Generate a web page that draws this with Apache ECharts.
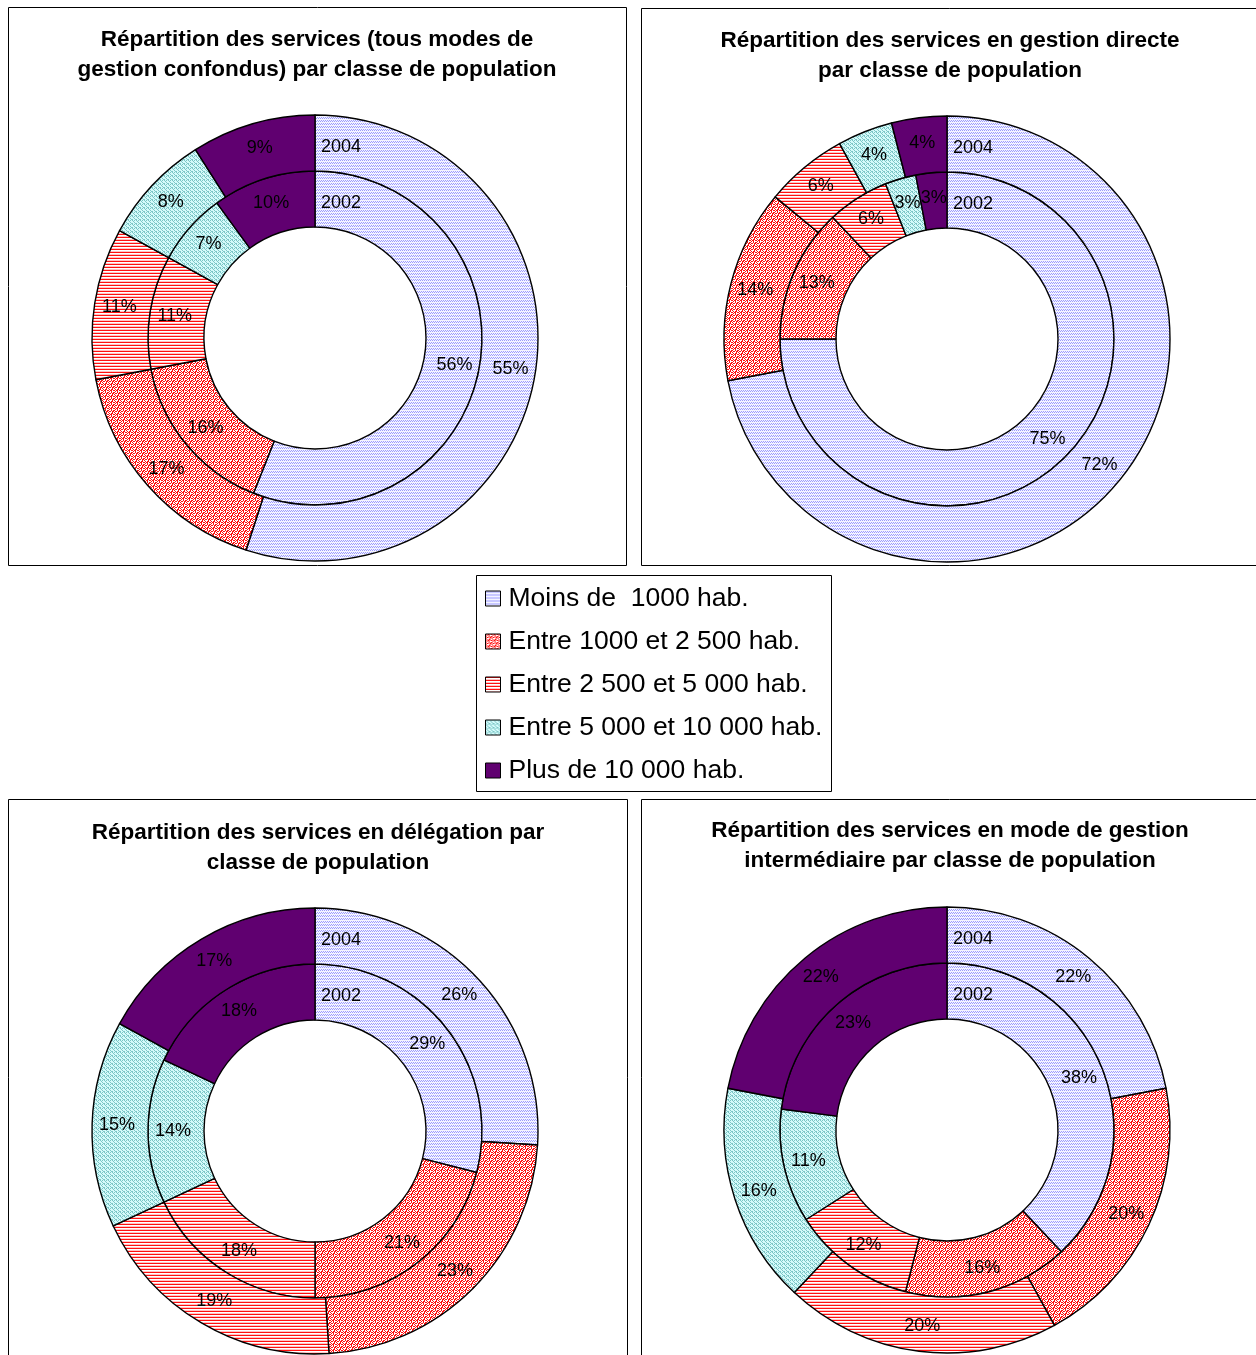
<!DOCTYPE html>
<html>
<head>
<meta charset="utf-8">
<script src="https://cdn.jsdelivr.net/npm/echarts@6/dist/echarts.min.js"></script>
<style>
  html, body { margin: 0; padding: 0; background: #ffffff; }
  #chart { width: 1256px; height: 1355px; }
</style>
</head>
<body>
<div id="chart"></div>
<script>
// Classes de population (ordre des secteurs, sens horaire depuis midi)
const categories = [
  'Moins de  1000 hab.',
  'Entre 1000 et 2 500 hab.',
  'Entre 2 500 et 5 000 hab.',
  'Entre 5 000 et 10 000 hab.',
  'Plus de 10 000 hab.'
];
const years = ['2002', '2004'];

// Parts (%) par classe de population
const tousModes2002 = [56, 16, 11, 7, 10];
const tousModes2004 = [55, 17, 11, 8, 9];
const gestionDirecte2002 = [75, 13, 6, 3, 3];
const gestionDirecte2004 = [72, 14, 6, 4, 4];
const delegation2002 = [29, 21, 18, 14, 18];
const delegation2004 = [26, 23, 19, 15, 17];
const intermediaire2002 = [38, 16, 12, 11, 23];
const intermediaire2004 = [22, 20, 20, 16, 22];

const titles = [
  'Répartition des services (tous modes de\ngestion confondus) par classe de population',
  'Répartition des services en gestion directe\npar classe de population',
  'Répartition des services en délégation par\nclasse de population',
  'Répartition des services en mode de gestion\nintermédiaire par classe de population'
];

const FONT = '"Liberation Sans", Arial, sans-serif';

// Motifs de remplissage : tuiles décrites ligne par ligne ('x' = pixel coloré)
function tile(rows, bg, fg) {
  const c = document.createElement('canvas');
  c.width = rows[0].length; c.height = rows.length;
  const ctx = c.getContext('2d');
  ctx.fillStyle = bg; ctx.fillRect(0, 0, c.width, c.height);
  ctx.fillStyle = fg;
  rows.forEach((r, y) => {
    for (let x = 0; x < r.length; x++) if (r[x] === 'x') ctx.fillRect(x, y, 1, 1);
  });
  return { image: c, repeat: 'repeat' };
}
function stripes(rows) {
  const c = document.createElement('canvas');
  c.width = 4; c.height = rows.length;
  const ctx = c.getContext('2d');
  rows.forEach((col, i) => { ctx.fillStyle = col; ctx.fillRect(0, i, 4, 1); });
  return { image: c, repeat: 'repeat' };
}

const fills = [
  // vaguelettes lavande
  tile(['.x.x', 'x.x.', '....'], '#f4f4ff', '#9c9cff'),
  // pointillé rouge
  tile([
    'x.xx.x',
    '.x.x..',
    'x..x.x',
    '.xx.xx',
    'x...x.',
    '.x.xx.'
  ], '#ffffff', '#ff1010'),
  // rayures horizontales rouges
  stripes(['#ff1010', '#ffffff', '#ffc4c4']),
  // cyan tramé
  tile(['x.x.', '.x..', '..x.', 'x..x'], '#d4fafa', '#7cc6c6'),
  // violet uni
  '#600070'
];

const charts = [
  { c: [315, 338], d2002: tousModes2002, d2004: tousModes2004 },
  { c: [947, 339], d2002: gestionDirecte2002, d2004: gestionDirecte2004 },
  { c: [315, 1131], d2002: delegation2002, d2004: delegation2004 },
  { c: [947, 1130], d2002: intermediaire2002, d2004: intermediaire2004 }
];
const titlePos = [[317, 25], [950, 26], [318, 818], [950, 816]];
const panels = [[8, 7, 618, 558], [641, 8, 640, 557], [8, 799, 619, 580], [641, 799, 640, 580]];

const R_IN = 111, R_MID = 167, R_OUT = 223;

function pieData(values) {
  return values.map((v, i) => ({ name: categories[i], value: v, itemStyle: { color: fills[i] } }));
}

const series = [];
const graphic = [];
charts.forEach((ch, k) => {
  [[years[0], ch.d2002, [R_IN, R_MID]], [years[1], ch.d2004, [R_MID, R_OUT]]].forEach(([yr, vals, rad]) => {
    series.push({
      type: 'pie',
      name: yr,
      center: ch.c,
      radius: rad,
      startAngle: 90,
      clockwise: true,
      silent: true,
      animation: false,
      avoidLabelOverlap: false,
      itemStyle: { borderColor: '#000000', borderWidth: 1.4 },
      label: {
        show: true, position: 'inside', formatter: '{c}%',
        color: '#000000', fontFamily: FONT, fontSize: 18
      },
      labelLine: { show: false },
      emphasis: { disabled: true },
      data: pieData(vals)
    });
    // étiquette de l'année, à droite du rayon de départ
    graphic.push({
      type: 'text',
      x: ch.c[0] + 6,
      y: ch.c[1] - (rad[0] + rad[1]) / 2 + 4,
      z: 100,
      silent: true,
      style: { text: yr, fill: '#000000', font: '18px ' + FONT, textVerticalAlign: 'middle', verticalAlign: 'middle' }
    });
  });
  const p = panels[k];
  graphic.push({
    type: 'rect', silent: true, z: -1,
    shape: { x: p[0] + 0.5, y: p[1] + 0.5, width: p[2], height: p[3] },
    style: { fill: null, stroke: '#000000', lineWidth: 1 }
  });
});
graphic.push({
  type: 'rect', silent: true, z: -1,
  shape: { x: 476.5, y: 575.5, width: 355, height: 216 },
  style: { fill: null, stroke: '#000000', lineWidth: 1 }
});

const chart = echarts.init(document.getElementById('chart'), null, { renderer: 'canvas' });
chart.setOption({
  backgroundColor: '#ffffff',
  animation: false,
  title: titles.map((t, i) => ({
    text: t,
    left: titlePos[i][0],
    top: titlePos[i][1],
    textAlign: 'center',
    padding: 0,
    textStyle: { fontFamily: FONT, fontWeight: 'bold', fontSize: 22.5, lineHeight: 30, color: '#000000' }
  })),
  legend: {
    data: categories,
    orient: 'vertical',
    left: 485,
    top: 585,
    padding: 0,
    itemWidth: 15,
    itemHeight: 15,
    itemGap: 16,
    icon: 'rect',
    selectedMode: false,
    itemStyle: { borderColor: '#000000', borderWidth: 1 },
    textStyle: { fontFamily: FONT, fontSize: 26.5, lineHeight: 26, color: '#000000', padding: [0, 0, 0, 3] }
  },
  graphic: graphic,
  series: series
});
</script>
</body>
</html>
